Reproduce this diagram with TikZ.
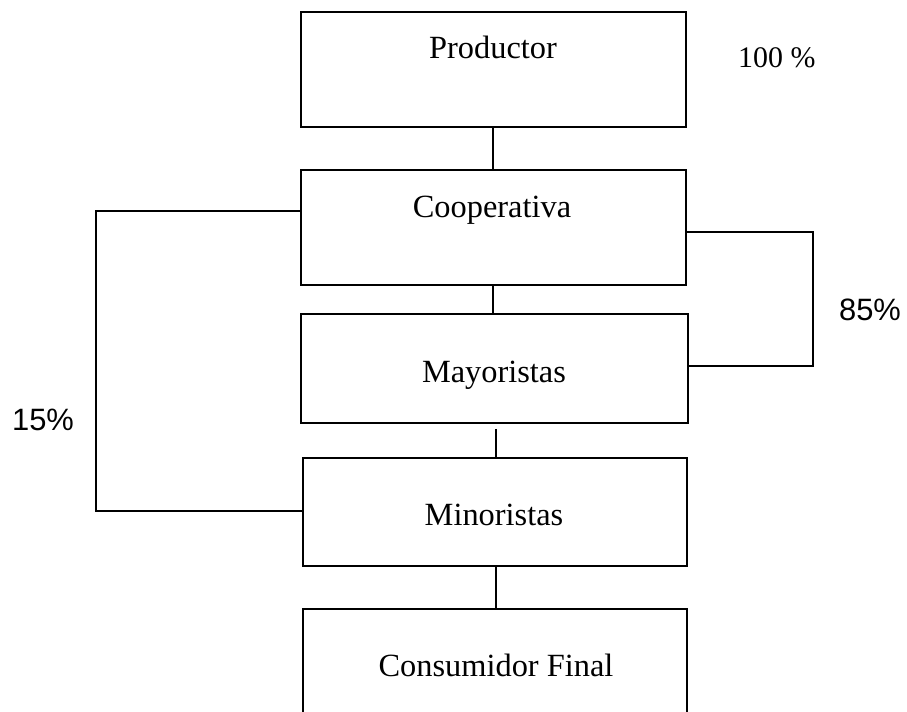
\documentclass[tikz,border=0pt]{standalone}
\usepackage{fontspec}
\setmainfont{Liberation Serif}
\newfontfamily\labelsans{Liberation Sans}
\begin{document}
\begin{tikzpicture}[x=1bp,y=-1bp,
  box/.style={draw=black,line width=1.6bp,rectangle,inner sep=0pt},
  boxtext/.style={anchor=base,inner sep=0pt,font=\fontsize{32.5}{38}\selectfont},
  link/.style={draw=black,line width=1.6bp},
  pct/.style={inner sep=0pt,font=\labelsans\fontsize{31}{36}\selectfont}]
\clip (0,0) rectangle (907,712);
\fill[white] (0,0) rectangle (907,712);

% chain of boxes
\node[box,minimum width=385bp,minimum height=115bp] (prod) at (493.5,69.5) {};
\node[box,minimum width=385bp,minimum height=115bp] (coop) at (493.5,227.5) {};
\node[box,minimum width=387bp,minimum height=109bp] (mayo) at (494.5,368.5) {};
\node[box,minimum width=384bp,minimum height=108bp] (mino) at (495,512) {};
\node[box,minimum width=384bp,minimum height=114bp] (cons) at (495,666) {};

% box captions
\node[boxtext] (tprod) at (493,59) {Productor};
\node[boxtext] (tcoop) at (492,217) {Cooperativa};
\node[boxtext] (tmayo) at (494,382) {Mayoristas};
\node[boxtext] (tmino) at (494,525) {Minoristas};
\node[boxtext] (tcons) at (496,676) {Consumidor Final};

% vertical links
\draw[link] (prod.south -| 493,0) -- (coop.north -| 493,0);
\draw[link] (coop.south -| 493,0) -- (mayo.north -| 493,0);
\draw[link,shorten <=5bp] (mayo.south -| 496,0) -- (mino.north -| 496,0);
\draw[link] (mino.south -| 496,0) -- (cons.north -| 496,0);

% bypass brackets
\coordinate (rt) at (813,232);
\coordinate (rb) at (813,366);
\draw[link] (coop.east |- rt) -- (rt) -- (rb) -- (mayo.east |- rb);
\coordinate (lt) at (96,211);
\coordinate (lb) at (96,511);
\draw[link] (coop.west |- lt) -- (lt) -- (lb) -- (mino.west |- lb);

% shares
\node[anchor=base west,inner sep=0pt,font=\fontsize{30}{36}\selectfont] (p100) at (738,68) {100 \%};
\node[pct] (p85) at (870,310) {85\%};
\node[pct] (p15) at (43,420) {15\%};
\end{tikzpicture}
\end{document}
